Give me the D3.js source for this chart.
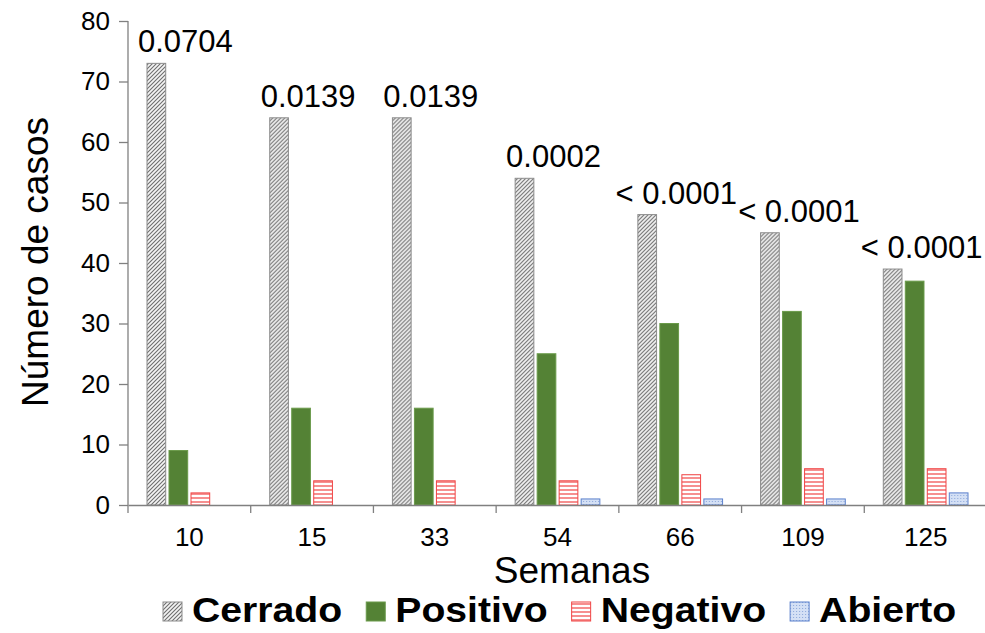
<!DOCTYPE html>
<html>
<head>
<meta charset="utf-8">
<script src="https://cdn.jsdelivr.net/npm/d3@7"></script>
<style>
  body { margin: 0; background: #fff; }
  text { font-family: "Liberation Sans", Arial, sans-serif; fill: #000; }
</style>
</head>
<body>
<script>
const w = 985, h = 633;

const semanas = ['10', '15', '33', '54', '66', '109', '125'];
const series = ['Cerrado', 'Positivo', 'Negativo', 'Abierto'];
const cerrado = [73, 64, 64, 54, 48, 45, 39];
const positivo = [9, 16, 16, 25, 30, 32, 37];
const negativo = [2, 4, 4, 4, 5, 6, 6];
const abierto = [0, 0, 0, 1, 1, 1, 2];
const pValues = ['0.0704', '0.0139', '0.0139', '0.0002', '< 0.0001', '< 0.0001', '< 0.0001'];
const yTicks = [0, 10, 20, 30, 40, 50, 60, 70, 80];

const values = { Cerrado: cerrado, Positivo: positivo, Negativo: negativo, Abierto: abierto };

const margin = { left: 128, right: -2, top: 21, bottom: 128 };

const svg = d3.select('body').append('svg')
    .attr('width', w)
    .attr('height', h);

// fill patterns
const defs = svg.append('defs');

const hatch = defs.append('pattern')
    .attr('id', 'p-cerrado')
    .attr('patternUnits', 'userSpaceOnUse')
    .attr('width', 4).attr('height', 4);
hatch.append('rect').attr('width', 4).attr('height', 4).attr('fill', '#f4f4f4');
hatch.append('path')
    .attr('d', 'M0,4 L4,0 M-1,1 L1,-1 M3,5 L5,3')
    .attr('stroke', '#6e6e6e').attr('stroke-width', 1.1);

const lines = defs.append('pattern')
    .attr('id', 'p-negativo')
    .attr('patternUnits', 'userSpaceOnUse')
    .attr('width', 4).attr('height', 4);
lines.append('rect').attr('width', 4).attr('height', 4).attr('fill', '#fff');
lines.append('path')
    .attr('d', 'M0,2 L4,2')
    .attr('stroke', '#f04545').attr('stroke-width', 1.2);

const dots = defs.append('pattern')
    .attr('id', 'p-abierto')
    .attr('patternUnits', 'userSpaceOnUse')
    .attr('width', 3).attr('height', 3);
dots.append('rect').attr('width', 3).attr('height', 3).attr('fill', '#d4e0f5');
dots.append('rect').attr('width', 1).attr('height', 1).attr('fill', '#8aa6da');

const fills = {
    Cerrado: 'url(#p-cerrado)',
    Positivo: '#548235',
    Negativo: 'url(#p-negativo)',
    Abierto: 'url(#p-abierto)'
};
const strokes = {
    Cerrado: '#8c8c8c',
    Positivo: '#6a9a4a',
    Negativo: '#f04545',
    Abierto: '#5b80cc'
};

const x = d3.scaleBand()
    .domain(semanas)
    .range([margin.left, w - margin.right])
    .padding(0);

const xs = d3.scaleBand()
    .domain(series)
    .range([19, x.bandwidth() - 19])
    .paddingInner(0.15)
    .paddingOuter(0);

const y = d3.scaleLinear()
    .domain([0, 80])
    .range([h - margin.bottom, margin.top]);

// bars
const groups = svg.append('g')
    .selectAll('g')
    .data(semanas)
    .join('g')
    .attr('transform', d => `translate(${x(d)},0)`);

groups.selectAll('rect')
    .data((d, i) => series.map(s => ({ s, v: values[s][i] })))
    .join('rect')
    .filter(d => d.v > 0)
    .attr('x', d => xs(d.s))
    .attr('y', d => y(d.v))
    .attr('width', xs.bandwidth())
    .attr('height', d => y(0) - y(d.v))
    .attr('fill', d => fills[d.s])
    .attr('stroke', d => strokes[d.s])
    .attr('stroke-width', 1);

// p-value labels
svg.append('g')
    .selectAll('text')
    .data(semanas)
    .join('text')
    .attr('x', d => x(d) + x.bandwidth() / 2 - 4)
    .attr('y', (d, i) => y(cerrado[i]) - 11)
    .attr('text-anchor', 'middle')
    .attr('font-size', 31)
    .text((d, i) => pValues[i]);

// y axis
const yAxis = svg.append('g')
    .attr('transform', `translate(${margin.left},0)`)
    .call(d3.axisLeft(y).tickValues(yTicks).tickSize(9).tickPadding(9));
yAxis.select('.domain').attr('stroke', '#808080').attr('stroke-width', 1.3)
    .attr('d', `M0,${y(80)}V${y(0) + 8}`);
yAxis.selectAll('.tick line').attr('stroke', '#808080').attr('stroke-width', 1.3);
yAxis.selectAll('.tick text').attr('font-size', 26).attr('font-family', '"Liberation Sans", Arial, sans-serif');

// x axis: labels centred, ticks at band boundaries
const xAxis = svg.append('g')
    .attr('transform', `translate(0,${y(0)})`)
    .call(d3.axisBottom(x).tickSize(0).tickPadding(23));
xAxis.select('.domain').attr('stroke', '#808080').attr('stroke-width', 1.3);
xAxis.selectAll('.tick text').attr('font-size', 26).attr('font-family', '"Liberation Sans", Arial, sans-serif');
xAxis.selectAll('.bound')
    .data(semanas)
    .join('line')
    .attr('class', 'bound')
    .attr('x1', d => x(d) + x.bandwidth())
    .attr('x2', d => x(d) + x.bandwidth())
    .attr('y1', 0)
    .attr('y2', 8)
    .attr('stroke', '#808080')
    .attr('stroke-width', 1.3);

// axis titles
svg.append('text')
    .attr('transform', 'translate(48,262) rotate(-90)')
    .attr('text-anchor', 'middle')
    .attr('font-size', 37)
    .text('Número de casos');

svg.append('text')
    .attr('x', 572)
    .attr('y', 583)
    .attr('text-anchor', 'middle')
    .attr('font-size', 37)
    .text('Semanas');

// legend (text slightly widened like the original)
const stretch = 1.12;
const legend = svg.append('g').attr('transform', 'translate(163,602)');
let lx = 0;
series.forEach(s => {
    const item = legend.append('g').attr('transform', `translate(${lx},0)`);
    item.append('rect')
        .attr('width', 19).attr('height', 19)
        .attr('fill', fills[s])
        .attr('stroke', strokes[s]);
    const t = item.append('text')
        .attr('transform', `translate(29,20) scale(${stretch},1)`)
        .attr('font-size', 35)
        .attr('font-weight', 'bold')
        .text(s);
    lx += 29 + t.node().getComputedTextLength() * stretch + 24;
});
</script>
</body>
</html>
